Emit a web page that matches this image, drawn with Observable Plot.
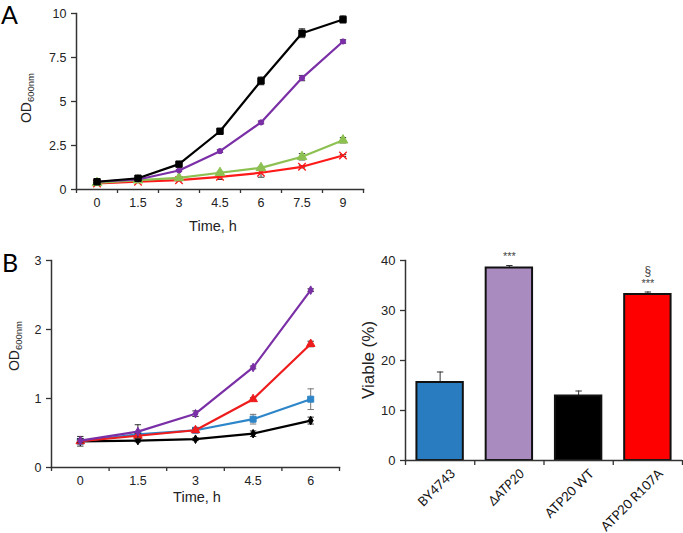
<!DOCTYPE html>
<html>
<head>
<meta charset="utf-8">
<script src="https://cdn.jsdelivr.net/npm/d3@7"></script>
<script src="https://cdn.jsdelivr.net/npm/@observablehq/plot@0.6"></script>
<style>
  body { margin: 0; background: #fff; }
  #root { position: relative; width: 683px; height: 533px; overflow: hidden; font-family: "Liberation Sans", Arial, sans-serif; color: #222; }
  .panel { position: absolute; }
  .letter { position: absolute; font-family: Lato, "Open Sans", sans-serif; font-size: 25px; line-height: 25px; color: #000; }
  .lab { position: absolute; white-space: nowrap; transform: translate(-50%, -50%); }
  .rot { transform: translate(-50%, -50%) rotate(-90deg); }
  .lab sub { font-size: 0.68em; vertical-align: -0.25em; }
</style>
</head>
<body>
<div id="root"></div>
<script>
// ---------- Data: panel A (OD600nm growth curves) ----------
const timesA = [0, 1.5, 3, 4.5, 6, 7.5, 9];
const aBlack = [0.44, 0.64, 1.44, 3.31, 6.17, 8.88, 9.66];
const aBlackErr = [0.04, 0.05, 0.08, 0.12, 0.22, 0.25, 0.2];
const aPurple = [0.44, 0.57, 1.08, 2.18, 3.81, 6.33, 8.41];
const aPurpleErr = [0.04, 0.04, 0.05, 0.08, 0.08, 0.15, 0.1];
const aGreen = [0.38, 0.53, 0.66, 0.95, 1.23, 1.86, 2.8];
const aGreenErr = [0.04, 0.04, 0.05, 0.08, 0.08, 0.18, 0.15];
const aRed = [0.34, 0.44, 0.53, 0.72, 0.95, 1.29, 1.93];
const aRedErr = [0.03, 0.04, 0.04, 0.15, 0.25, 0.06, 0.05];
const yTicksA = [0, 2.5, 5, 7.5, 10];

// ---------- Data: panel B left ----------
const timesB = [0, 1.5, 3, 4.5, 6];
const bPurple = [0.39, 0.52, 0.78, 1.45, 2.57];
const bPurpleErr = [0.03, 0.1, 0.04, 0.02, 0.02];
const bRed = [0.38, 0.46, 0.54, 0.99, 1.79];
const bRedErr = [0.03, 0.03, 0.03, 0.02, 0.04];
const bBlue = [0.38, 0.48, 0.54, 0.70, 0.99];
const bBlueErr = [0.03, 0.03, 0.03, 0.07, 0.15];
const bBlack = [0.38, 0.39, 0.41, 0.49, 0.68];
const bBlackErr = [0.07, 0.02, 0.02, 0.04, 0.05];
const yTicksB = [0, 1, 2, 3];

// ---------- Data: panel B right (viability bars) ----------
const strains = ["BY4743", "ΔATP20", "ATP20 WT", "ATP20 R107A"];
const viable = [15.6, 38.5, 12.9, 33.2];
const viableErr = [2.1, 0.5, 1.0, 0.5];
const sigStars = ["", "***", "", "***"];
const sigSection = ["", "", "", "§"];
const yTicksBar = [0, 10, 20, 30, 40];

// ---------- Styles ----------
const barColors = ["#2a7cc0", "#a98bc0", "#000000", "#ff0000"];
const AXIS = "#333";
const cap = { draw(ctx) { ctx.moveTo(-3.2, 0); ctx.lineTo(3.2, 0); } };

function rows(times, vals, errs) {
  return times.map((t, i) => ({ t, v: vals[i], e: errs[i] }));
}

function lineChart({ times, series, yDomain, yTicks, width, height, margin }) {
  const step = times[1] - times[0];
  const xDomain = [times[0] - step / 2, times[times.length - 1] + step / 2];
  const bounds = d3.range(times.length + 1).map(k => xDomain[0] + k * step);
  const marks = [
    Plot.axisY({ ticks: yTicks, tickSize: 5, tickPadding: 5, label: null, stroke: AXIS, strokeWidth: 1.3, tickFormat: d => String(d) }),
    Plot.axisX({ ticks: bounds, tickSize: 4, label: null, stroke: AXIS, strokeWidth: 1.3, tickFormat: () => "" }),
    Plot.axisX({ ticks: times, tickSize: 0, tickPadding: 9, label: null, tickFormat: d => String(d) }),
    Plot.frame({ anchor: "left", stroke: AXIS, strokeWidth: 1.5 }),
    Plot.frame({ anchor: "bottom", stroke: AXIS, strokeWidth: 1.5 })
  ];
  for (const s of series) {
    const r = rows(times, s.vals, s.errs);
    marks.push(
      Plot.ruleX(r, { x: "t", y1: d => d.v - d.e, y2: d => d.v + d.e, stroke: s.err || "#333", strokeWidth: 1 }),
      Plot.dot(r, { x: "t", y: d => d.v + d.e, symbol: cap, fill: "none", stroke: s.err || "#333", strokeWidth: 1 }),
      Plot.dot(r, { x: "t", y: d => d.v - d.e, symbol: cap, fill: "none", stroke: s.err || "#333", strokeWidth: 1 }),
      Plot.line(r, { x: "t", y: "v", stroke: s.color, strokeWidth: 2.2 }),
      Plot.dot(r, { x: "t", y: "v", symbol: s.symbol, r: s.r, fill: s.fill === undefined ? s.color : s.fill, stroke: s.color, strokeWidth: s.sw || 1 })
    );
  }
  return Plot.plot({
    width, height,
    marginLeft: margin[3], marginRight: margin[1], marginTop: margin[0], marginBottom: margin[2],
    x: { domain: xDomain, axis: null },
    y: { domain: yDomain, axis: null },
    style: { fontFamily: "'Liberation Sans', Arial, sans-serif", fontSize: "12.5px", color: "#222", background: "transparent", overflow: "visible" },
    marks
  });
}

const root = document.getElementById("root");
function place(el, left, top) {
  el.classList.add("panel");
  el.style.left = left + "px";
  el.style.top = top + "px";
  root.appendChild(el);
}
function label(html, x, y, size, rotate, extra) {
  const d = document.createElement("div");
  d.className = "lab" + (rotate ? " rot" : "");
  d.innerHTML = html;
  d.style.left = x + "px";
  d.style.top = y + "px";
  d.style.fontSize = size + "px";
  if (extra) Object.assign(d.style, extra);
  root.appendChild(d);
}

// ---------- Panel A ----------
const chartA = lineChart({
  times: timesA,
  yDomain: [0, 10], yTicks: yTicksA,
  width: 380, height: 240, margin: [13, 17, 51, 76],
  series: [
    { vals: aRed, errs: aRedErr, color: "#ff1a1a", symbol: "times", r: 3.5, fill: "none", sw: 1.3 },
    { vals: aGreen, errs: aGreenErr, color: "#8cc152", symbol: "triangle", r: 3.6 },
    { vals: aPurple, errs: aPurpleErr, color: "#7a2fa6", symbol: "circle", r: 2.6 },
    { vals: aBlack, errs: aBlackErr, color: "#000", symbol: "square", r: 3.6 }
  ]
});
place(chartA, 0, 0);

// ---------- Panel B left ----------
const chartB = lineChart({
  times: timesB,
  yDomain: [0, 3], yTicks: yTicksB,
  width: 360, height: 283, margin: [10, 21, 66, 51],
  series: [
    { vals: bBlack, errs: bBlackErr, color: "#000", symbol: "diamond", r: 2.6 },
    { vals: bBlue, errs: bBlueErr, color: "#2e86c8", symbol: "square", r: 3.4, err: "#777" },
    { vals: bRed, errs: bRedErr, color: "#ee1c1c", symbol: "triangle", r: 3.2 },
    { vals: bPurple, errs: bPurpleErr, color: "#7a2fa6", symbol: "diamond", r: 2.6 }
  ]
});
place(chartB, 0, 250);

// ---------- Panel B right (bars) ----------
const barRows = strains.map((s, i) => ({ i, s, v: viable[i], e: viableErr[i], stars: sigStars[i], sec: sigSection[i] }));
const pad = 0.165;
const plainIdx = barRows.filter(d => !d.s.startsWith("Δ")).map(d => d.i + 0.5);
const italicIdx = barRows.filter(d => d.s.startsWith("Δ")).map(d => d.i + 0.5);
const labelOpts = { tickSize: 0, tickPadding: 11, tickRotate: -45, dx: 13, label: null, fontFamily: "Lato, 'Open Sans', sans-serif", fontSize: 13, fill: "#111", tickFormat: x => strains[x - 0.5] };
const chartBar = Plot.plot({
  width: 323, height: 293,
  marginLeft: 45, marginRight: 1, marginTop: 20, marginBottom: 73,
  x: { domain: [0, strains.length], axis: null },
  y: { domain: [0, 40], axis: null },
  style: { fontFamily: "'Liberation Sans', Arial, sans-serif", fontSize: "13px", color: "#222", background: "transparent", overflow: "visible" },
  marks: [
    Plot.ruleX(barRows, { x: d => d.i + 0.5, y1: "v", y2: d => d.v + d.e, stroke: "#333", strokeWidth: 1 }),
    Plot.dot(barRows, { x: d => d.i + 0.5, y: d => d.v + d.e, symbol: cap, fill: "none", stroke: "#333", strokeWidth: 1 }),
    Plot.rectY(barRows, { x1: d => d.i + pad, x2: d => d.i + 1 - pad, y: "v", fill: d => barColors[d.i], stroke: "#111", strokeWidth: 2 }),
    Plot.text(barRows, { x: d => d.i + 0.5, y: d => d.v + d.e, text: "stars", dy: -9, fontSize: 11, fill: "#444" }),
    Plot.text(barRows, { x: d => d.i + 0.5, y: d => d.v + d.e, text: "sec", dy: -21, fontSize: 12, fill: "#444" }),
    Plot.axisY({ ticks: yTicksBar, tickSize: 5, tickPadding: 5, label: null, stroke: AXIS, strokeWidth: 1.3 }),
    Plot.axisX({ ticks: d3.range(strains.length + 1), tickSize: 5, label: null, stroke: AXIS, strokeWidth: 1.3, tickFormat: () => "" }),
    Plot.axisX({ ...labelOpts, ticks: plainIdx }),
    Plot.axisX({ ...labelOpts, ticks: italicIdx, fontStyle: "italic" }),
    Plot.frame({ anchor: "left", stroke: AXIS, strokeWidth: 1.5 }),
    Plot.ruleY([0], { stroke: AXIS, strokeWidth: 1.5 })
  ]
});
place(chartBar, 360, 240);

// ---------- Titles / labels ----------
const la = document.createElement("div"); la.className = "letter"; la.textContent = "A"; la.style.left = "1px"; la.style.top = "2px"; root.appendChild(la);
const lb = document.createElement("div"); lb.className = "letter"; lb.textContent = "B"; lb.style.left = "2px"; lb.style.top = "250px"; root.appendChild(lb);
label("OD<sub>600nm</sub>", 27, 98, 14, true);
label("OD<sub>600nm</sub>", 15, 346, 14, true);
label("Time, h", 213, 226, 14.5, false);
label("Time, h", 197, 497, 14.5, false);
label("Viable (%)", 369, 360, 17, true);
</script>
</body>
</html>
